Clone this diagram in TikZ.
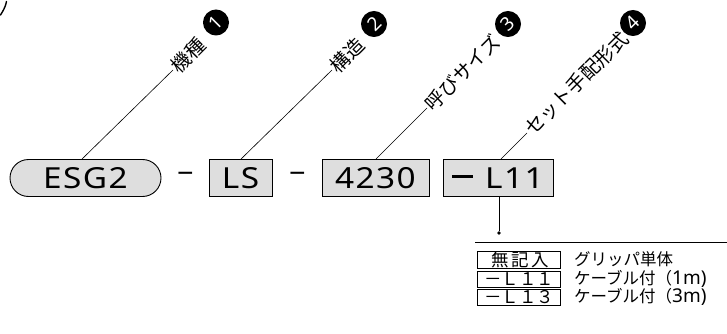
\documentclass[tikz,border=0pt]{standalone}
\usepackage{fontspec}
\newfontfamily\jp{Noto Sans CJK JP}
\newfontfamily\jpsp[LetterSpace=15]{Noto Sans CJK JP}
\newfontfamily\lat[FakeStretch=1.15,LetterSpace=5]{Noto Sans}
\newfontfamily\latplain{Noto Sans}
\begin{document}
\begin{tikzpicture}[x=1pt,y=-1pt,
  box/.style={draw=black, line width=0.9pt, fill=black!13, minimum height=37pt, inner sep=0pt, font=\lat\fontsize{29}{29}\selectfont},
  lead/.style={line width=0.6pt},
  lbl/.style={rotate=45, anchor=west, inner sep=1.5pt, font=\jp\fontsize{19.5}{19.5}\selectfont},
  num/.style={circle, fill=black, text=white, minimum size=26pt, inner sep=0pt, rotate=45, font=\latplain\bfseries\fontsize{19}{19}\selectfont},
  tbox/.style={draw=black, line width=0.8pt, fill=white, minimum width=83pt, inner sep=0pt, font=\jp\fontsize{17.5}{17.5}\selectfont},
  ttxt/.style={anchor=west, inner sep=0pt, font=\jp\fontsize{16.5}{16.5}\selectfont},
  sep/.style={inner sep=0pt, font=\latplain\fontsize{29}{29}\selectfont}
]
\useasboundingbox (0,0) rectangle (727,334);
\clip (0,0) rectangle (727,334);
% fragment at top left
\draw[line width=1.4pt, line cap=round] (6.5,1.5) .. controls (5.5,7) and (3,11) .. (0.5,15);
% main code boxes
\node[box, rounded corners=18.5pt, minimum width=151pt] (esg) at (85.5,178) {ESG2};
\node[sep] (d1) at (185.5,178) {−};
\node[box, minimum width=63pt] (ls) at (240.5,178) {LS};
\node[sep] (d2) at (297.5,178) {−};
\node[box, minimum width=107pt] (sz) at (375.5,178) {4230};
\node[box, minimum width=110pt] (opt) at (498,178) {\rule[10.5pt]{21pt}{2.8pt}\hspace{12pt}L11};
% labels
\node[lbl] (t1) at (173,70) {機種};
\node[num] (n1) at (216,22.5) {1};
\node[lbl] (t2) at (332,70) {構造};
\node[num] (n2) at (374,24) {2};
\node[lbl] (t3) at (427,108) {呼びサイズ};
\node[num] (n3) at (508,24) {3};
\node[lbl] (t4) at (527,133) {セット手配形式};
\node[num] (n4) at (633,23) {4};
\draw[lead] ([xshift=-3.5pt]esg.north) -- (t1.west);
\draw[lead] ([xshift=0.5pt]ls.north) -- (t2.west);
\draw[lead] ([xshift=0.5pt]sz.north) -- (t3.west);
\draw[lead] ([xshift=3pt]opt.north) -- (t4.west);
% option table
\node[circle, fill=black, inner sep=0pt, minimum size=3.6pt] (dot) at (499,233) {};
\draw[line width=0.8pt] ([xshift=1pt]opt.south) -- (dot);
\coordinate (hl) at (475,242);
\coordinate (hr) at (727,242);
\draw[line width=0.9pt] (hl) -- (hr);
\node[tbox, minimum height=17pt] (r1) at (519,259.5) {\hspace{3pt}{\jpsp 無記入}};
\node[tbox, minimum height=16pt] (r2) at (519,279) {－Ｌ１１};
\node[tbox, minimum height=16pt] (r3) at (519,297) {－Ｌ１３};
\node[ttxt] (s1) at (574,259.5) {グリッパ単体};
\node[ttxt] (s2) at (574,279) {ケーブル付（{\latplain\fontsize{19}{19}\selectfont 1m)}};
\node[ttxt] (s3) at (574,297) {ケーブル付（{\latplain\fontsize{19}{19}\selectfont 3m)}};
\end{tikzpicture}
\end{document}
